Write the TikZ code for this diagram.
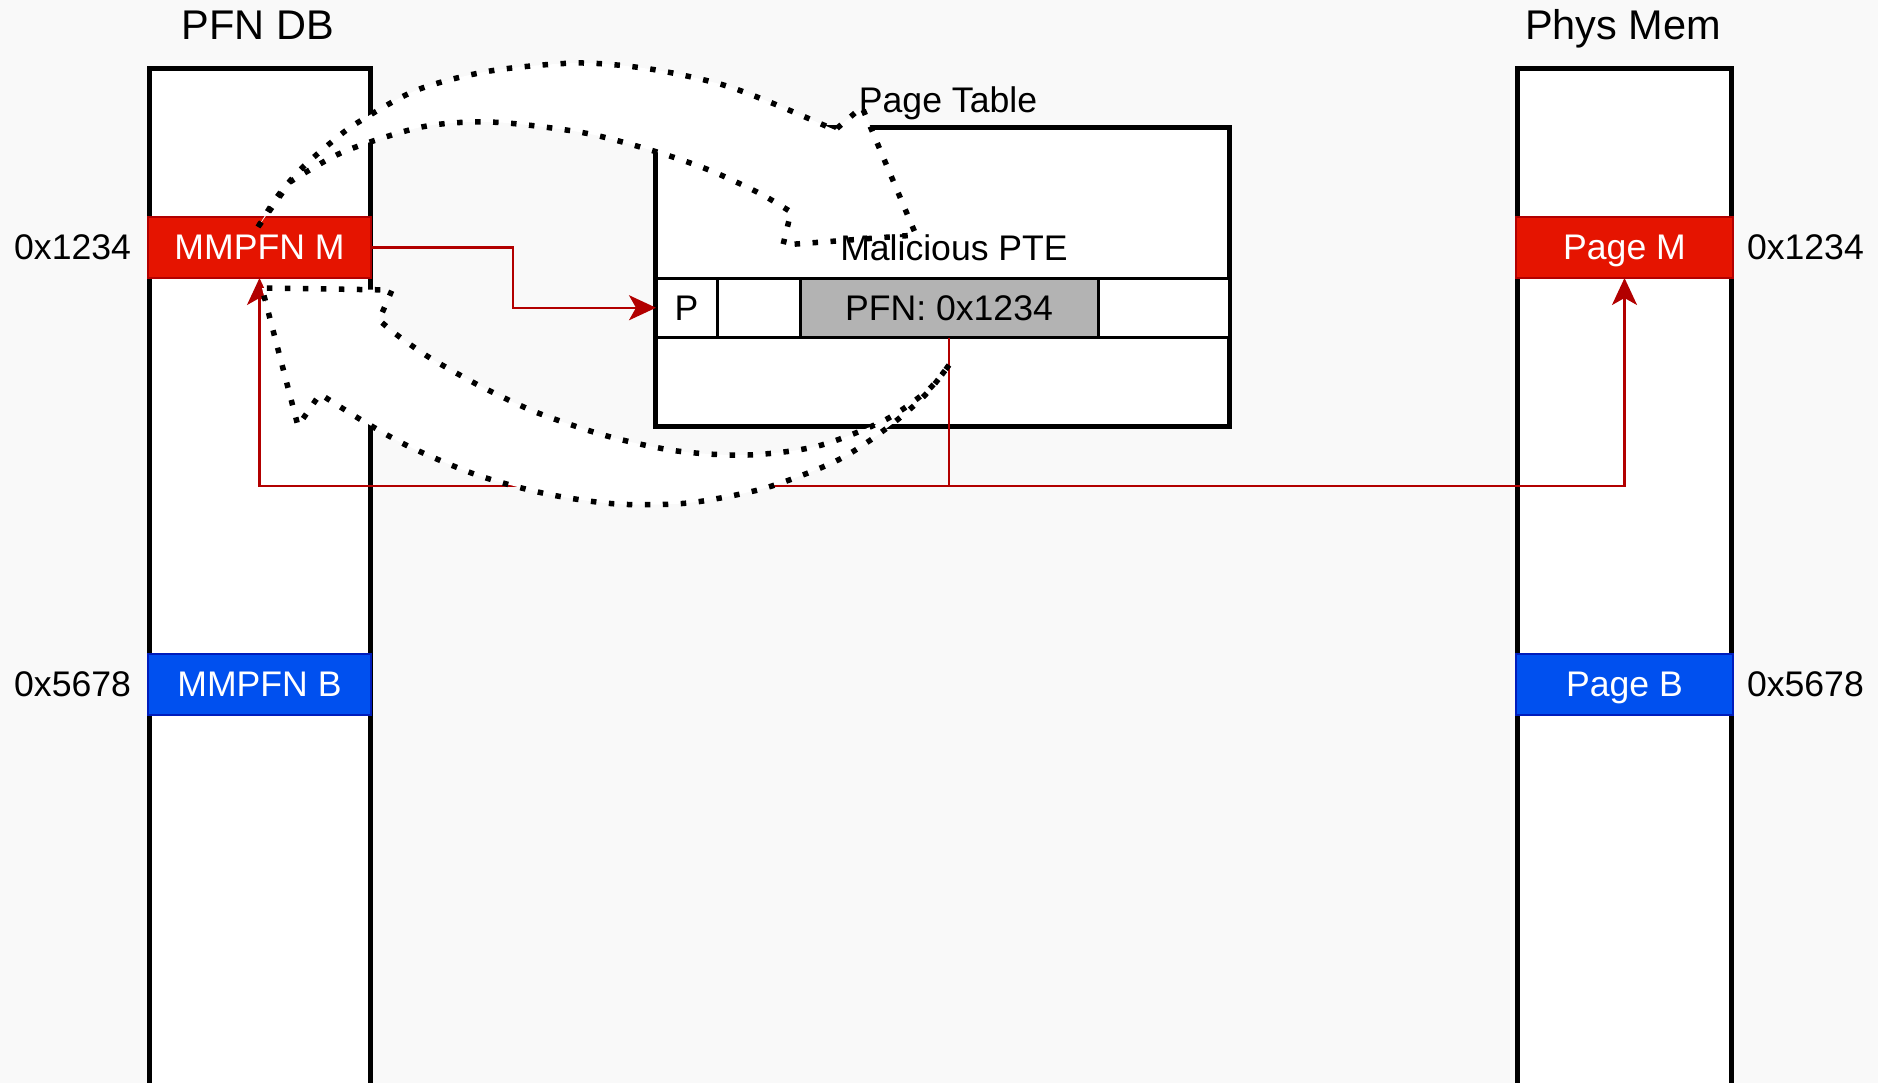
\documentclass[tikz,border=0pt]{standalone}
\usepackage{fontspec}
\setmainfont{Liberation Sans}
\usetikzlibrary{positioning,arrows.meta}

\definecolor{bgpage}{HTML}{F9F9F9}
\definecolor{mred}{HTML}{E51400}
\definecolor{mredline}{HTML}{B20000}
\definecolor{mblue}{HTML}{0050EF}
\definecolor{mblueline}{HTML}{001DBC}
\definecolor{pfngray}{HTML}{B3B3B3}

\begin{document}
\begin{tikzpicture}[x=1pt, y=-1pt,
		every node/.style={font=\fontsize{35.6}{42}\selectfont, inner sep=0pt, outer sep=0pt},
		stack/.style={draw, line width=5pt, fill=white, minimum height=1100pt, anchor=north},
		heading/.style={font=\fontsize{41.5}{49}\selectfont, anchor=base},
		slot/.style={line width=2pt, minimum height=61pt, text=white, text height=25pt, text depth=0pt},
		redslot/.style={slot, fill=mred, draw=mredline},
		blueslot/.style={slot, fill=mblue, draw=mblueline},
		addr/.style={text height=25pt, text depth=0pt},
		ptecell/.style={draw, line width=3pt, fill=white, minimum height=59.5pt, text height=25pt, text depth=0pt},
		wire/.style={draw=mredline, line width=2.2pt},
		redlink/.style={wire, -{Stealth[length=27pt, width=25pt, inset=7pt]}},
		flexarrow/.style={draw, fill=white, line width=5.5pt, dash pattern=on 5.5pt off 12.5pt},
	]
		\clip (0,0) rectangle (1878,1083);
		\fill[bgpage] (0,0) rectangle (1878,1083);

		% the two memory columns
		\node[stack, minimum width=221pt] (pfndb) at (259.5,69) {};
		\node[stack, minimum width=214pt] (physmem) at (1624.5,69) {};
		\node[heading] (pfntitle) at (258,40) {PFN DB};
		\node[heading] (memtitle) at (1623,40) {Phys Mem};

		% entries
		\node[redslot, minimum width=223pt] (mmpfnm) at (259.5,247.5) {MMPFN M};
		\node[blueslot, minimum width=223pt] (mmpfnb) at (259.5,684) {MMPFN B};
		\node[redslot, minimum width=217pt] (pagem) at (1624.5,247.5) {Page M};
		\node[blueslot, minimum width=217pt] (pageb) at (1624.5,684) {Page B};

		% addresses
		\node[addr, left=17pt of mmpfnm] (addrmm) {0x1234};
		\node[addr, left=17pt of mmpfnb] (addrmb) {0x5678};
		\node[addr, right=14pt of pagem] (addrpm) {0x1234};
		\node[addr, right=14pt of pageb] (addrpb) {0x5678};

		% page table with the malicious pte
		\node[draw, line width=5pt, fill=white, minimum width=574pt, minimum height=298.5pt] (ptable) at (942.5,277.25) {};
		\node[ptecell, minimum width=61pt] (pbit) at (686.5,307.75) {P};
		\node[ptecell, minimum width=83pt, right=0pt of pbit] (gapcell) {};
		\node[ptecell, minimum width=298pt, right=0pt of gapcell, fill=pfngray] (pfn) {PFN: 0x1234};
		\node[ptecell, minimum width=131.5pt, right=0pt of pfn] (restcell) {};

		% red links
		\coordinate (bend) at (513,280);
		\draw[redlink] (mmpfnm.east) -| (bend) |- (pbit.west);
		\coordinate (split) at (pfn.south |- 0,486);
		\draw[wire] (pfn.south) -- (split);
		\draw[redlink] (split) -| (mmpfnm.south);
		\draw[redlink] (split) -| (pagem.south);

		% dotted flex arrow, MMPFN M to the pte
		\draw[flexarrow] plot[smooth] coordinates {(258,227) (277,197) (300,170) (328,145) (357,123) (417,90) (490,71) (578,63) (650,69) (720,84) (772,103) (835,130)}
			-- (862,107) -- (916,235) -- (783,245)
			-- plot[smooth] coordinates {(791,212) (759,193) (709,170) (657,152) (590,134) (518,124) (470,122) (417,128) (343,152) (290,182)} -- cycle;

		% dotted flex arrow, pte back to MMPFN M
		\draw[flexarrow] plot[smooth] coordinates {(949,365) (928,392) (902,416) (872,439) (842,458) (808,473) (758,490) (688,503) (617,504) (547,494) (477,475) (410,447) (363,421) (320,394)}
			-- (298,426) -- (262,288) -- (392,290)
			-- plot[smooth] coordinates {(379,320) (397,335) (427,356) (458,374) (488,390) (538,413) (607,436) (677,451) (748,455) (818,446) (885,420) (928,390) (949,365)} -- cycle;

		% labels on top
		\node[addr] (ptlabel) at (948,100) {Page Table};
		\node[addr] (ptelabel) at (954,248) {Malicious PTE};
	\end{tikzpicture}
\end{document}
